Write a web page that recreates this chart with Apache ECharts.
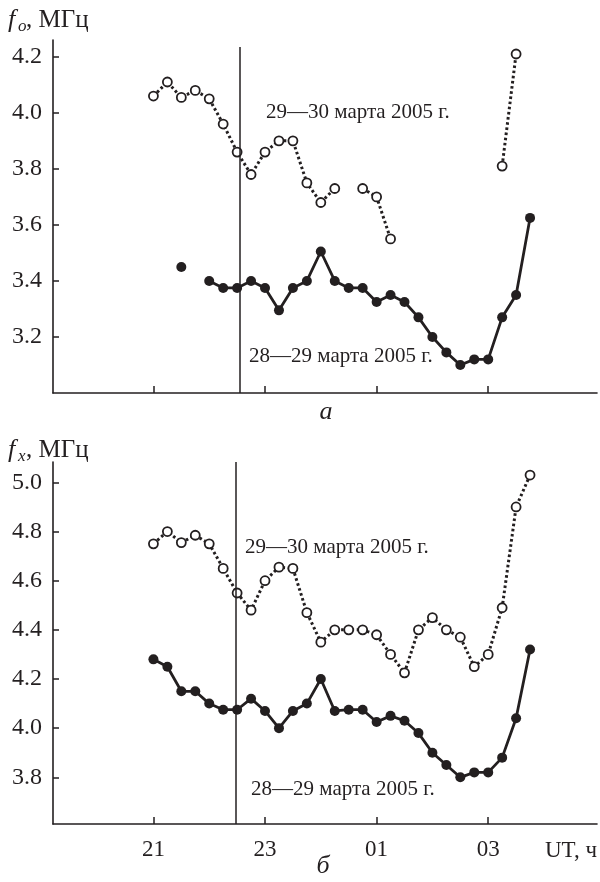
<!DOCTYPE html>
<html>
<head>
<meta charset="utf-8">
<script src="https://cdn.jsdelivr.net/npm/echarts@6/dist/echarts.min.js"></script>
<style>
  html, body { margin: 0; padding: 0; background: #fff; }
  #chart { width: 600px; height: 882px; }
</style>
</head>
<body>
<div id="chart"></div>
<script>
// время UT, ч (после полуночи продолжаем счёт: 25 = 01 ч)
var hours = [21, 21.25, 21.5, 21.75, 22, 22.25, 22.5, 22.75, 23, 23.25, 23.5, 23.75,
  24, 24.25, 24.5, 24.75, 25, 25.25, 25.5, 25.75, 26, 26.25, 26.5, 26.75, 27, 27.25, 27.5, 27.75];

// fo, МГц
var fo_29_30 = [4.06, 4.11, 4.055, 4.08, 4.05, 3.96, 3.86, 3.78, 3.86, 3.90, 3.90, 3.75,
  3.68, 3.73, null, 3.73, 3.70, 3.55, null, null, null, null, null, null, null, 3.81, 4.21, null];
var fo_28_29 = [null, null, 3.45, null, 3.40, 3.375, 3.375, 3.40, 3.375, 3.295, 3.375, 3.40,
  3.505, 3.40, 3.375, 3.375, 3.325, 3.35, 3.325, 3.27, 3.20, 3.145, 3.10, 3.12, 3.12, 3.27, 3.35, 3.625];

// fx, МГц
var fx_29_30 = [4.75, 4.80, 4.755, 4.785, 4.75, 4.65, 4.55, 4.48, 4.60, 4.655, 4.65, 4.47,
  4.35, 4.40, 4.40, 4.40, 4.38, 4.30, 4.225, 4.40, 4.45, 4.40, 4.37, 4.25, 4.30, 4.49, 4.90, 5.03];
var fx_28_29 = [4.28, 4.25, 4.15, 4.15, 4.10, 4.075, 4.075, 4.12, 4.07, 4.00, 4.07, 4.10,
  4.20, 4.07, 4.075, 4.075, 4.025, 4.05, 4.03, 3.98, 3.90, 3.85, 3.80, 3.82, 3.82, 3.88, 4.04, 4.32];

var xTicks = [21, 23, 25, 27];
var xTickLabels = ['21', '23', '01', '03'];
var foTicks = [3.2, 3.4, 3.6, 3.8, 4.0, 4.2];
var fxTicks = [3.8, 4.0, 4.2, 4.4, 4.6, 4.8, 5.0];

// вертикальная отметка момента
var markHourTop = 22.55;
var markHourBottom = 22.48;

var FONT = '"Liberation Serif", "Times New Roman", serif';
var INK = '#231f20';

function pairs(vals) {
  return hours.map(function (h, i) {
    return [h, vals[i] === null ? '-' : vals[i]];
  });
}

function xAxisCfg(idx, showLabels) {
  return {
    type: 'value', gridIndex: idx, min: 19.2, max: 28.95,
    axisLine: { onZero: false, lineStyle: { color: INK, width: 1.6 } },
    axisTick: { inside: true, length: 7, customValues: xTicks, lineStyle: { color: INK, width: 1.5 } },
    axisLabel: {
      show: showLabels, customValues: xTicks, margin: 14,
      fontFamily: FONT, fontSize: 23, color: INK,
      formatter: function (v) { return xTickLabels[xTicks.indexOf(v)]; }
    },
    splitLine: { show: false }
  };
}

function yAxisCfg(idx, min, max, ticks) {
  return {
    type: 'value', gridIndex: idx, min: min, max: max,
    axisLine: { show: true, onZero: false, lineStyle: { color: INK, width: 1.6 } },
    axisTick: { show: true, inside: true, length: 6, customValues: ticks, lineStyle: { color: INK, width: 1.5 } },
    axisLabel: {
      customValues: ticks, margin: 11,
      fontFamily: FONT, fontSize: 24, color: INK,
      formatter: function (v) { return v.toFixed(1); }
    },
    splitLine: { show: false }
  };
}

function openSeries(idx, vals) {
  return {
    type: 'line', xAxisIndex: idx, yAxisIndex: idx, z: 3,
    data: pairs(vals), showAllSymbol: true, connectNulls: false,
    symbol: 'circle', symbolSize: 9,
    itemStyle: { color: '#fff', borderColor: INK, borderWidth: 1.8 },
    lineStyle: { color: INK, width: 3, type: [2.6, 2.6] },
    animation: false
  };
}

function filledSeries(idx, vals) {
  return {
    type: 'line', xAxisIndex: idx, yAxisIndex: idx, z: 4,
    data: pairs(vals), showAllSymbol: true, connectNulls: false,
    symbol: 'circle', symbolSize: 10,
    itemStyle: { color: INK, borderColor: INK, borderWidth: 0 },
    lineStyle: { color: INK, width: 2.8 },
    animation: false
  };
}

function markSeries(idx, hour, y0, y1) {
  return {
    type: 'line', xAxisIndex: idx, yAxisIndex: idx, z: 1, data: [],
    markLine: {
      silent: true, symbol: 'none', animation: false,
      label: { show: false },
      lineStyle: { color: INK, width: 1.5, type: 'solid' },
      data: [[{ coord: [hour, y0] }, { coord: [hour, y1] }]]
    }
  };
}

function txt(x, y, s, size, style, align) {
  return {
    type: 'text', z: 10,
    style: {
      x: x, y: y, text: s, fill: INK, align: align || 'left', verticalAlign: 'middle',
      font: (style || 'normal') + ' ' + size + 'px ' + FONT
    }
  };
}

var chart = echarts.init(document.getElementById('chart'));
var option = {
  backgroundColor: '#fff',
  animation: false,
  grid: [
    { left: 53, top: 40, width: 544, height: 353 },
    { left: 53, top: 462, width: 544, height: 362 }
  ],
  xAxis: [xAxisCfg(0, false), xAxisCfg(1, true)],
  yAxis: [yAxisCfg(0, 3.0, 4.26, foTicks), yAxisCfg(1, 3.61, 5.083, fxTicks)],
  series: [
    markSeries(0, markHourTop, 3.0, 4.235),
    openSeries(0, fo_29_30),
    filledSeries(0, fo_28_29),
    markSeries(1, markHourBottom, 3.61, 5.083),
    openSeries(1, fx_29_30),
    filledSeries(1, fx_28_29)
  ],
  graphic: [
    txt(8, 20, 'f', 26, 'italic'),
    txt(18, 27, 'o', 17, 'italic'),
    txt(26, 20, ', МГц', 25),
    txt(8, 450, 'f', 26, 'italic'),
    txt(18, 457, 'x', 17, 'italic'),
    txt(26, 450, ', МГц', 25),
    txt(266, 112, '29—30 марта 2005 г.', 21),
    txt(249, 356, '28—29 марта 2005 г.', 21),
    txt(245, 547, '29—30 марта 2005 г.', 21),
    txt(251, 789, '28—29 марта 2005 г.', 21),
    txt(326, 412, 'а', 26, 'italic', 'center'),
    txt(323, 866, 'б', 26, 'italic', 'center'),
    txt(597, 851, 'UT, ч', 23, 'normal', 'right')
  ]
};
chart.setOption(option);
</script>
</body>
</html>
